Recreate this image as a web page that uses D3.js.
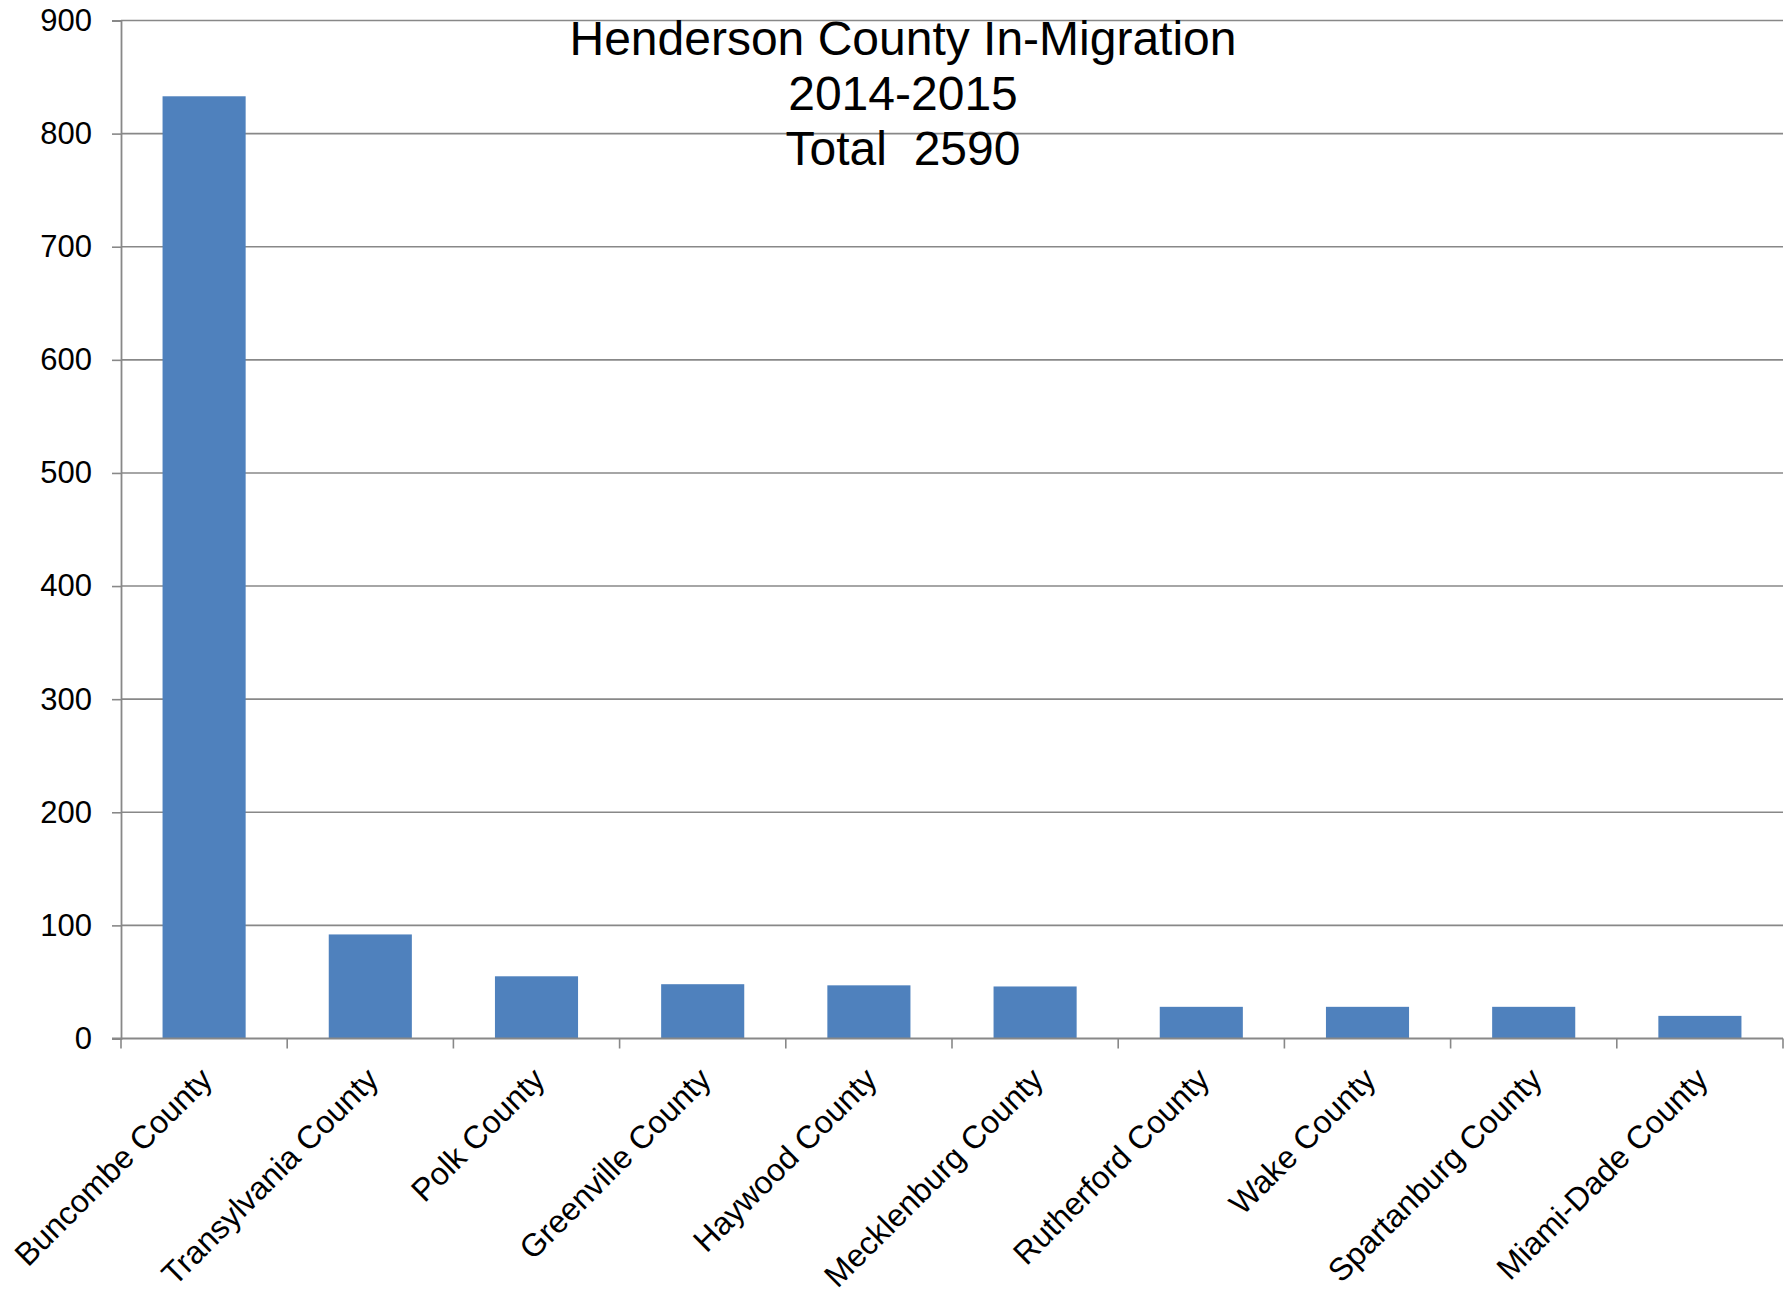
<!DOCTYPE html>
<html>
<head>
<meta charset="utf-8">
<script src="https://cdn.jsdelivr.net/npm/d3@7"></script>
<style>
  body { margin: 0; background: #fff; }
  svg { display: block; }
  text { font-family: "Liberation Sans", Arial, Helvetica, sans-serif; fill: #000; }
</style>
</head>
<body>
<script>
// Origin counties of people moving into Henderson County, 2014-2015
const counties = [
  "Buncombe County", "Transylvania County", "Polk County", "Greenville County",
  "Haywood County", "Mecklenburg County", "Rutherford County", "Wake County",
  "Spartanburg County", "Miami-Dade County"
];
const migrants = [833, 92, 55, 48, 47, 46, 28, 28, 28, 20];
const yTicks = [0, 100, 200, 300, 400, 500, 600, 700, 800, 900];
const titleLines = ["Henderson County In-Migration", "2014-2015", "Total  2590"];

const W = 1787, H = 1297;
const plot = { left: 121, right: 1783, top: 20.5, bottom: 1038.5 };
const gridColor = "#888888";

const svg = d3.select("body").append("svg")
  .attr("width", W).attr("height", H);

const x = d3.scaleBand().domain(counties).range([plot.left, plot.right]).padding(0);
const y = d3.scaleLinear().domain([0, 900]).range([plot.bottom, plot.top]);

// horizontal gridlines
svg.append("g").selectAll("line")
  .data(yTicks.filter(v => v > 0))
  .join("line")
  .attr("x1", plot.left).attr("x2", plot.right)
  .attr("y1", d => y(d)).attr("y2", d => y(d))
  .attr("stroke", gridColor).attr("stroke-width", 1.6);

// value axis
const yAxis = svg.append("g")
  .attr("transform", `translate(${plot.left},0)`)
  .call(d3.axisLeft(y).tickValues(yTicks).tickSize(9).tickPadding(20).tickFormat(d3.format("d")));
yAxis.select(".domain").attr("stroke", gridColor).attr("stroke-width", 1.8);
yAxis.selectAll(".tick line").attr("stroke", gridColor).attr("stroke-width", 1.6);
yAxis.selectAll(".tick text")
  .attr("font-size", 31)
  .attr("font-family", "Liberation Sans, Arial, sans-serif")
  .attr("fill", "#000");

// bars
svg.append("g").selectAll("rect")
  .data(counties)
  .join("rect")
  .attr("x", d => x(d) + x.bandwidth() * 0.25)
  .attr("width", x.bandwidth() * 0.5)
  .attr("y", (d, i) => y(migrants[i]))
  .attr("height", (d, i) => y(0) - y(migrants[i]))
  .attr("fill", "#4F81BD");

// category axis line with ticks between categories
const boundaries = counties.map(c => x(c)).concat([x.range()[1]]);
const xAxis = svg.append("g");
xAxis.append("line")
  .attr("x1", plot.left - 9).attr("x2", plot.right)
  .attr("y1", y(0)).attr("y2", y(0))
  .attr("stroke", gridColor).attr("stroke-width", 1.8);
xAxis.selectAll("line.tick")
  .data(boundaries)
  .join("line")
  .attr("class", "tick")
  .attr("x1", d => d).attr("x2", d => d)
  .attr("y1", y(0)).attr("y2", y(0) + 10)
  .attr("stroke", gridColor).attr("stroke-width", 1.6);

// rotated category labels
svg.append("g").selectAll("text")
  .data(counties)
  .join("text")
  .attr("transform", d => `translate(${x(d) + x.bandwidth() / 2 + 10},${y(0) + 43}) rotate(-45)`)
  .attr("text-anchor", "end")
  .attr("font-size", 32)
  .text(d => d);

// title
svg.append("g").selectAll("text")
  .data(titleLines)
  .join("text")
  .attr("x", 903)
  .attr("y", (d, i) => 55 + i * 55)
  .attr("text-anchor", "middle")
  .attr("font-size", 48)
  .style("white-space", "pre")
  .attr("xml:space", "preserve")
  .text(d => d);
</script>
</body>
</html>
